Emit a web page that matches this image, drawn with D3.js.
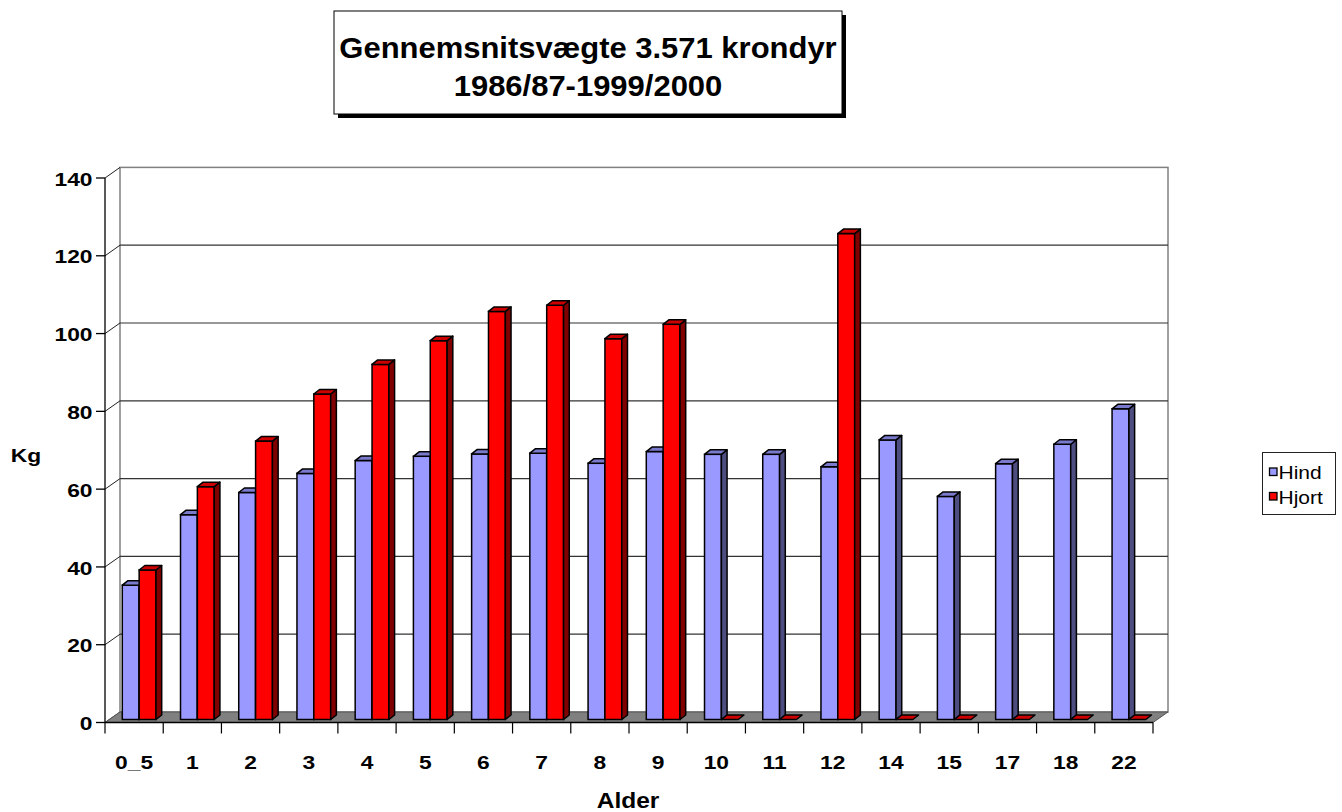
<!DOCTYPE html>
<html>
<head>
<meta charset="utf-8">
<script src="https://cdn.jsdelivr.net/npm/d3@7"></script>
<style>
  html, body { margin: 0; padding: 0; background: #fff; }
  svg text { font-family: Arial, "Liberation Sans", sans-serif; }
</style>
</head>
<body>
<script>
"use strict";

// data
const categories = ["0_5", "1", "2", "3", "4", "5", "6", "7", "8", "9", "10", "11", "12", "14", "15", "17", "18", "22"];
const hind = [34.5, 52.6, 58.3, 63.2, 66.5, 67.6, 68.2, 68.4, 65.8, 68.8, 68.1, 68.1, 64.9, 71.8, 57.3, 65.7, 70.7, 79.8];
const hjort = [38.4, 59.8, 71.5, 83.6, 91.2, 97.3, 104.8, 106.4, 97.8, 101.5, 0, 0, 124.8, 0, 0, 0, 0, 0];
const seriesNames = ["Hind", "Hjort"];
const yTicks = [0, 20, 40, 60, 80, 100, 120, 140];

const colors = {
  Hind: { front: "#9999ff", side: "#4d4d80", top: "#7a7acc" },
  Hjort: { front: "#ff0000", side: "#800000", top: "#cc0000" }
};

const width = 1342, height = 812;

const svg = d3.select("body")
  .append("svg")
    .attr("width", width)
    .attr("height", height);

// the original text is a bit wider than plain Arial, so stretch it sideways
function stretchedText(parent, x, y, str, size, opts = {}) {
  return parent.append("text")
    .attr("transform", `translate(${x},${y}) scale(${opts.sx || 1.2},1)`)
    .attr("text-anchor", opts.anchor || "middle")
    .attr("font-size", size)
    .attr("font-weight", opts.weight || "bold")
    .text(str);
}

// 3d layout: front plane, back wall offset, bar plane
const depth = { dx: 15, dy: -10.5 };
const barDepth = { dx: 5.7, dy: -4.5 };

const x = d3.scaleBand().domain(categories).range([105, 1153]).padding(0);
const yFront = d3.scaleLinear().domain([0, 140]).range([722.5, 178]);
const yBack = d3.scaleLinear().domain([0, 140]).range([712, 167.4]);
const yBar = d3.scaleLinear().domain([0, 140]).range([719.5, 174.4]);

const x0 = x.range()[0], x1 = x.range()[1];

// back wall
svg.append("rect")
  .attr("x", x0 + depth.dx)
  .attr("y", yBack(140))
  .attr("width", x1 - x0)
  .attr("height", yBack(0) - yBack(140))
  .attr("fill", "#fff")
  .attr("stroke", "#808080")
  .attr("stroke-width", 1.5);

// gridlines on the back wall
svg.append("g")
  .selectAll("line")
  .data(yTicks.filter(d => d > 0 && d < 140))
  .enter()
  .append("line")
    .attr("x1", x0 + depth.dx)
    .attr("x2", x1 + depth.dx)
    .attr("y1", d => yBack(d))
    .attr("y2", d => yBack(d))
    .attr("stroke", "#333")
    .attr("stroke-width", 1.2);

// left wall diagonals
svg.append("g")
  .selectAll("line")
  .data(yTicks)
  .enter()
  .append("line")
    .attr("x1", x0)
    .attr("y1", d => yFront(d))
    .attr("x2", x0 + depth.dx)
    .attr("y2", d => yBack(d))
    .attr("stroke", "#222")
    .attr("stroke-width", 1);

// floor
svg.append("polygon")
  .attr("points", [
    [x0, yFront(0)], [x1, yFront(0)],
    [x1 + depth.dx, yBack(0)], [x0 + depth.dx, yBack(0)]
  ].map(p => p.join(",")).join(" "))
  .attr("fill", "#808080")
  .attr("stroke", "#555")
  .attr("stroke-width", 1);

// bars
const bw = x.bandwidth();
const barW = bw * 0.2895;
const barOff = bw * 0.297;

const bars = [];
categories.forEach((c, i) => {
  bars.push({ cat: c, series: "Hind", value: hind[i], k: 0 });
  bars.push({ cat: c, series: "Hjort", value: hjort[i], k: 1 });
});

const pts = arr => arr.map(p => p.join(",")).join(" ");

const barG = svg.append("g")
  .selectAll("g")
  .data(bars)
  .enter()
  .append("g");

barG.each(function(d) {
  const g = d3.select(this);
  const left = x(d.cat) + barOff + d.k * barW;
  const right = left + barW;
  const top = yBar(d.value);
  const bottom = yBar(0);
  const c = colors[d.series];
  const { dx, dy } = barDepth;

  if (d.value > 0) {
    g.append("rect")
      .attr("x", left)
      .attr("y", top)
      .attr("width", barW)
      .attr("height", bottom - top)
      .attr("fill", c.front)
      .attr("stroke", "#000")
      .attr("stroke-width", 1.5);
    g.append("polygon")
      .attr("points", pts([[right, top], [right + dx, top + dy], [right + dx, bottom + dy], [right, bottom]]))
      .attr("fill", c.side)
      .attr("stroke", "#000")
      .attr("stroke-width", 1.5)
      .attr("stroke-linejoin", "round");
  }
  g.append("polygon")
    .attr("points", pts([[left, top], [left + dx, top + dy], [right + dx, top + dy], [right, top]]))
    .attr("fill", c.top)
    .attr("stroke", "#000")
    .attr("stroke-width", 1.5)
    .attr("stroke-linejoin", "round");
});

// front y axis
svg.append("line")
  .attr("x1", x0).attr("x2", x0)
  .attr("y1", yFront(140)).attr("y2", yFront(0))
  .attr("stroke", "#000")
  .attr("stroke-width", 1.3);

svg.append("g")
  .selectAll("line")
  .data(yTicks)
  .enter()
  .append("line")
    .attr("x1", x0 - 9)
    .attr("x2", x0)
    .attr("y1", d => yFront(d))
    .attr("y2", d => yFront(d))
    .attr("stroke", "#000")
    .attr("stroke-width", 1.3);

const yLabels = svg.append("g");
yTicks.forEach(t => {
  stretchedText(yLabels, 92.5, yFront(t) + 7.6, t, 18.7, { anchor: "end", sx: 1.22 });
});

// front x axis
svg.append("line")
  .attr("x1", x0).attr("x2", x1)
  .attr("y1", yFront(0)).attr("y2", yFront(0))
  .attr("stroke", "#000")
  .attr("stroke-width", 1.3);

svg.append("g")
  .selectAll("line")
  .data(d3.range(categories.length + 1))
  .enter()
  .append("line")
    .attr("x1", i => x0 + i * bw)
    .attr("x2", i => x0 + i * bw)
    .attr("y1", yFront(0))
    .attr("y2", yFront(0) + 11)
    .attr("stroke", "#000")
    .attr("stroke-width", 1.2);

const xLabels = svg.append("g");
categories.forEach(c => {
  stretchedText(xLabels, x(c) + bw / 2, 768.5, c, 18.7, { sx: 1.22 });
});

// axis titles
stretchedText(svg, 628, 807.5, "Alder", 21.5, { sx: 1.14 });
stretchedText(svg, 26, 462, "Kg", 19, { sx: 1.2 });

// title box with shadow
const tb = { x: 334, y: 11, w: 508, h: 103 };
svg.append("rect")
  .attr("x", tb.x + 4).attr("y", tb.y + 4)
  .attr("width", tb.w).attr("height", tb.h)
  .attr("fill", "#000");
svg.append("rect")
  .attr("x", tb.x).attr("y", tb.y)
  .attr("width", tb.w).attr("height", tb.h)
  .attr("fill", "#fff")
  .attr("stroke", "#000")
  .attr("stroke-width", 1);

stretchedText(svg, tb.x + tb.w / 2, 58.3, "Gennemsnitsvægte 3.571 krondyr", 29.5, { sx: 1.05 });
stretchedText(svg, tb.x + tb.w / 2, 96, "1986/87-1999/2000", 29.5, { sx: 1.05 });

// legend
const legend = svg.append("g").attr("transform", "translate(1262.5,452.5)");
legend.append("rect")
  .attr("width", 73).attr("height", 62)
  .attr("fill", "#fff")
  .attr("stroke", "#222")
  .attr("stroke-width", 1);

seriesNames.forEach((s, i) => {
  const row = legend.append("g").attr("transform", `translate(7,${15.5 + i * 24.5})`);
  row.append("rect")
    .attr("width", 7.5).attr("height", 7.5)
    .attr("fill", colors[s].front)
    .attr("stroke", "#000")
    .attr("stroke-width", 1.3);
  stretchedText(row, 9, 11, s, 17.5, { anchor: "start", weight: "normal", sx: 1.2 });
});
</script>
</body>
</html>
